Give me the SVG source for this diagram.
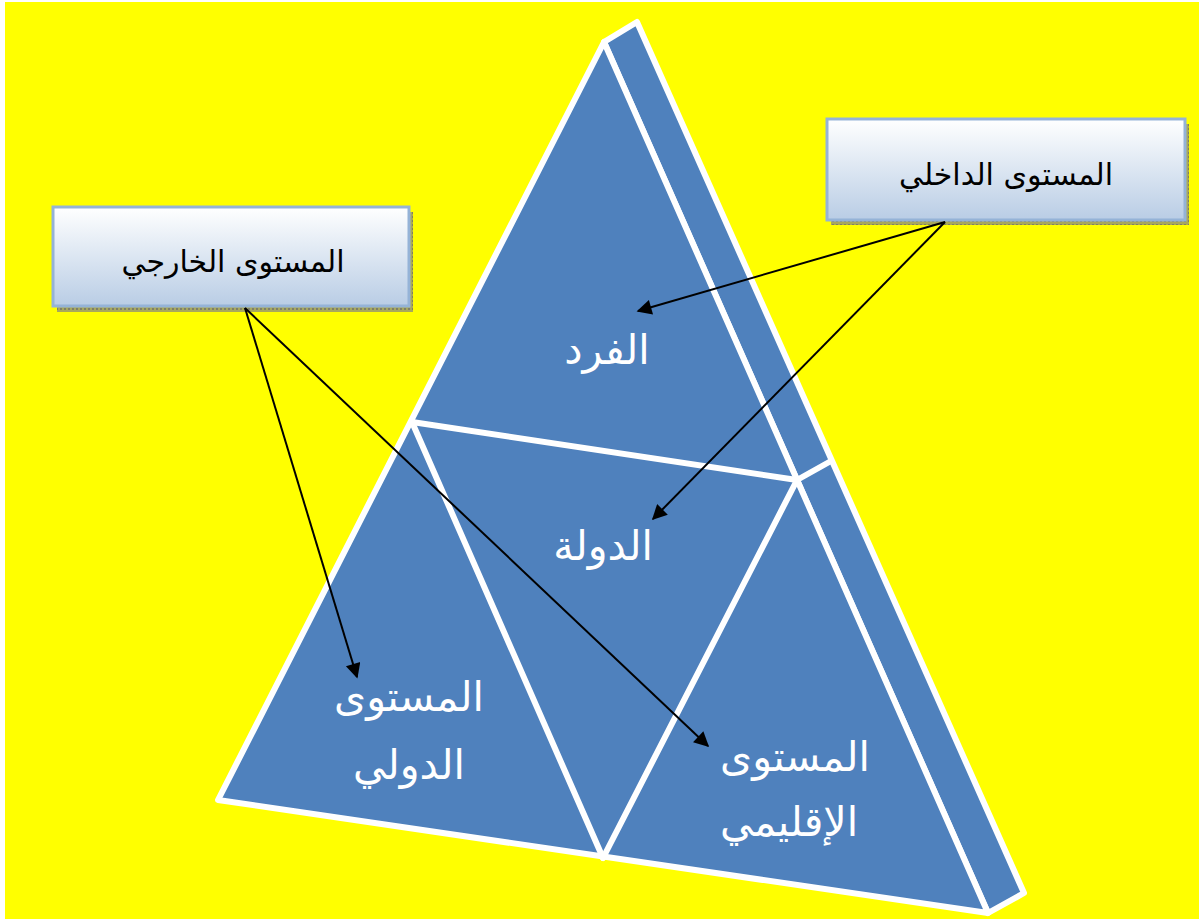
<svg xmlns="http://www.w3.org/2000/svg" width="1199" height="919" viewBox="0 0 1199 919">
  <style>
    .face { fill: #4F81BD; stroke: #FFFFFF; stroke-width: 6; stroke-linejoin: round; }
    .divider { stroke: #FFFFFF; stroke-width: 6; stroke-linecap: round; fill: none; }
    .label { font-family: "DejaVu Sans", "Liberation Sans", sans-serif; fill: #FFFFFF; font-size: 41px; text-anchor: middle; }
    .boxText { font-family: "DejaVu Sans", "Liberation Sans", sans-serif; fill: #000000; font-size: 30px; text-anchor: middle; }
    .box { fill: url(#boxFill); stroke: #95B3D7; stroke-width: 3; }
    .shadow { fill: url(#dots); }
    .conn { stroke: #000000; stroke-width: 2; fill: none; marker-end: url(#arrow); }
  </style>
  <defs>
    <linearGradient id="boxFill" x1="0" y1="0" x2="0" y2="1">
      <stop offset="0" stop-color="#FFFFFF"/>
      <stop offset="1" stop-color="#B9CDE5"/>
    </linearGradient>
    <pattern id="dots" width="4" height="4" patternUnits="userSpaceOnUse">
      <rect width="4" height="4" fill="#A8A85C"/>
      <rect width="2" height="2" fill="#7F7F6A"/>
    </pattern>
    <marker id="arrow" viewBox="0 0 10 10" refX="9" refY="5" markerWidth="10" markerHeight="7.5" orient="auto" markerUnits="strokeWidth">
      <path d="M0,0 L10,5 L0,10 z" fill="#000000"/>
    </marker>
  </defs>

  <!-- page background -->
  <rect x="0" y="0" width="1199" height="919" fill="#FFFFFF"/>
  <rect x="5" y="2" width="1194" height="917" fill="#FFFF00"/>

  <!-- pyramid -->
  <g id="pyramid">
    <polygon class="face" points="604,42 637,22 1024,893 988,913"/>
    <polygon class="face" points="604,42 988,913 218,800"/>
    <line class="divider" x1="797" y1="480" x2="831" y2="461"/>
    <line class="divider" x1="412" y1="422" x2="797" y2="480"/>
    <line class="divider" x1="412" y1="422" x2="603" y2="858"/>
    <line class="divider" x1="797" y1="480" x2="603" y2="858"/>
  </g>

  <g id="node-individual">
    <text class="label" x="607" y="364">الفرد</text>
  </g>
  <g id="node-state">
    <text class="label" x="603" y="560">الدولة</text>
  </g>
  <g id="node-international">
    <text class="label" x="409" y="711">المستوى</text>
    <text class="label" x="409" y="779">الدولي</text>
  </g>
  <g id="node-regional">
    <text class="label" x="795" y="771">المستوى</text>
    <text class="label" x="789" y="836">الإقليمي</text>
  </g>

  <!-- label boxes -->
  <g id="node-external">
    <rect class="shadow" x="57" y="212" width="356" height="100"/>
    <rect class="box" x="53" y="207" width="356" height="99"/>
    <text class="boxText" x="233" y="272">المستوى الخارجي</text>
  </g>
  <g id="node-internal">
    <rect class="shadow" x="831" y="124" width="358" height="101"/>
    <rect class="box" x="827" y="119" width="358" height="101"/>
    <text class="boxText" x="1006" y="185">المستوى الداخلي</text>
  </g>

  <!-- connectors -->
  <g id="connectors">
    <line class="conn" x1="945" y1="222" x2="638" y2="311"/>
    <line class="conn" x1="945" y1="222" x2="653" y2="519"/>
    <line class="conn" x1="245" y1="308" x2="357" y2="677"/>
    <line class="conn" x1="245" y1="308" x2="708" y2="746"/>
  </g>
</svg>
